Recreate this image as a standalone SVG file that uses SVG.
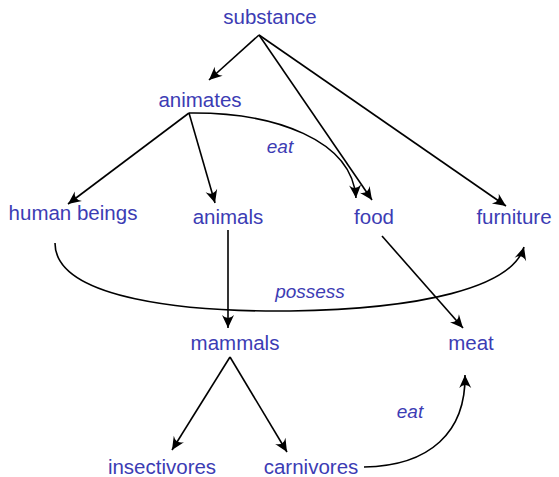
<svg xmlns="http://www.w3.org/2000/svg" width="559" height="477" viewBox="0 0 559 477">
<defs>
<style>
.n text{font-family:"Liberation Sans",Arial,sans-serif;font-size:20.5px;fill:#3c3cb4;text-anchor:middle}
.lbl{font-family:"Liberation Sans",Arial,sans-serif;font-size:19px;fill:#3c3cb4;font-style:italic;text-anchor:middle}
.e path{fill:none;stroke:#000;stroke-width:1.6;marker-end:url(#ah)}
</style>
<marker id="ah" viewBox="-15 -7 16 14" refX="0" refY="0" markerWidth="16" markerHeight="14" markerUnits="userSpaceOnUse" orient="auto">
<path d="M0,0 L-13,-6 Q-7,0 -13,6 Z" fill="#000"/>
</marker>
</defs>
<rect width="559" height="477" fill="#fff"/>
<g class="e" id="connectors">
<path d="M259,35 L209,80"/>
<path d="M259,35 L372,200"/>
<path d="M259,35 L506,206"/>
<path d="M189,113 L68,204"/>
<path d="M189,113 L215,203"/>
<path d="M189,113 C275,112 352,140 356,198"/>
<path d="M382,236 L463,328"/>
<path d="M228,230 L228,328"/>
<path d="M55,243 C55,300 190,312 290,311 C420,309 512,288 524,247"/>
<path d="M230,357 L172,450"/>
<path d="M230,357 L287,452"/>
<path d="M364,467 C430,466 466,432 465,375"/>
<text class="lbl" x="280" y="153">eat</text>
<text class="lbl" x="310" y="298">possess</text>
<text class="lbl" x="410" y="418">eat</text>
</g>
<g class="n" id="substance"><text x="270" y="24">substance</text></g>
<g class="n" id="animates"><text x="200" y="107">animates</text></g>
<g class="n" id="human-beings"><text x="73" y="220">human beings</text></g>
<g class="n" id="animals"><text x="228" y="224">animals</text></g>
<g class="n" id="food"><text x="374" y="224">food</text></g>
<g class="n" id="furniture"><text x="514" y="224">furniture</text></g>
<g class="n" id="mammals"><text x="235" y="350">mammals</text></g>
<g class="n" id="meat"><text x="471" y="350">meat</text></g>
<g class="n" id="insectivores"><text x="162" y="474">insectivores</text></g>
<g class="n" id="carnivores"><text x="311" y="474">carnivores</text></g>
</svg>
